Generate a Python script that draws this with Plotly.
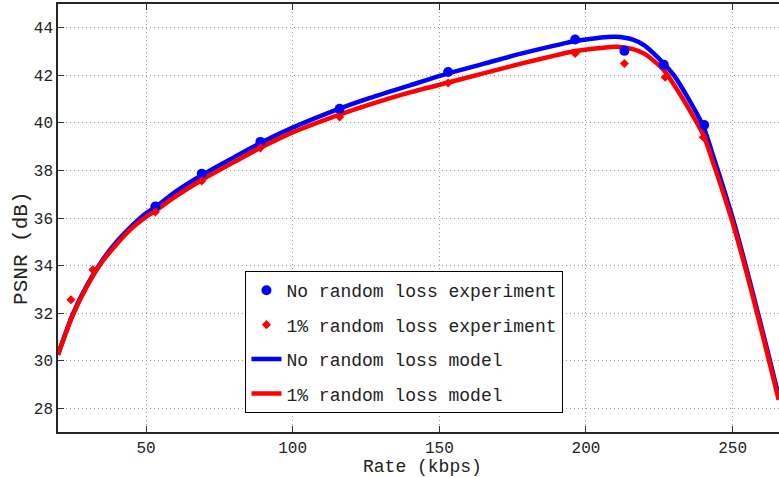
import plotly.graph_objects as go

# Experiment points
exp_rate_noloss = [53.2, 69.0, 89.0, 116.0, 153.0, 196.3, 213.1, 226.5, 240.3]
exp_psnr_noloss = [36.48, 37.86, 39.2, 40.59, 42.14, 43.51, 43.03, 42.45, 39.91]

exp_rate_loss = [24.4, 31.9, 53.2, 69.0, 89.0, 116.0, 153.0, 196.3, 213.1, 227.0, 240.0]
exp_psnr_loss = [32.56, 33.82, 36.25, 37.56, 38.95, 40.25, 41.68, 42.92, 42.5, 41.92, 39.4]

# Model curves
model_rate_noloss = [20, 25, 30, 35, 40, 45, 50, 53.2, 60, 69, 80, 89, 100, 116, 126.4, 140,
                     153, 165, 177.5, 190, 196.3, 204, 210, 216, 220, 226.5, 230, 235, 240,
                     243, 246, 250, 254, 258, 262, 265.7]
model_psnr_noloss = [30.25, 31.95, 33.2, 34.2, 35.0, 35.65, 36.2, 36.45, 37.1, 37.8, 38.55, 39.15,
                     39.8, 40.6, 41.05, 41.58, 42.08, 42.48, 42.9, 43.27, 43.44, 43.57, 43.62, 43.5,
                     43.25, 42.5, 42.0, 41.0, 39.85, 38.75, 37.6, 36.0, 34.2, 32.3, 30.35, 28.5]

model_rate_loss = [20, 25, 30, 35, 40, 45, 50, 53.2, 60, 69, 80, 89, 100, 116, 126.4, 140,
                   153, 165, 177.5, 190, 196.3, 204, 210.5, 216, 220, 226.5, 230, 235, 240,
                   243, 246, 250, 254, 258, 262, 265.7]
model_psnr_loss = [30.25, 31.9, 33.15, 34.15, 34.9, 35.55, 36.05, 36.3, 36.9, 37.6, 38.35, 38.95,
                   39.6, 40.35, 40.78, 41.28, 41.7, 42.08, 42.48, 42.85, 43.02, 43.14, 43.2, 43.1,
                   42.9, 42.22, 41.6, 40.6, 39.5, 38.45, 37.35, 35.8, 34.05, 32.15, 30.2, 28.35]

x_ticks = [50, 100, 150, 200, 250]
y_ticks = [28, 30, 32, 34, 36, 38, 40, 42, 44]

FONT = "Liberation Mono"
GRID = dict(showgrid=True, gridcolor="#9a9a9a", griddash="1px,3px", gridwidth=1)

fig = go.Figure()
fig.add_trace(go.Scatter(x=model_rate_noloss, y=model_psnr_noloss, mode="lines",
                         line=dict(color="#0000ff", width=4.5, shape="spline", smoothing=0.8),
                         name="No random loss model", legendgroup="c", legendrank=3))
fig.add_trace(go.Scatter(x=model_rate_loss, y=model_psnr_loss, mode="lines",
                         line=dict(color="#ff0000", width=4.5, shape="spline", smoothing=0.8),
                         name="1% random loss model", legendgroup="d", legendrank=4))
fig.add_trace(go.Scatter(x=exp_rate_noloss, y=exp_psnr_noloss, mode="markers",
                         marker=dict(color="#0000ff", size=10, symbol="circle"),
                         name="No random loss experiment", legendgroup="a", legendrank=1))
fig.add_trace(go.Scatter(x=exp_rate_loss, y=exp_psnr_loss, mode="markers",
                         marker=dict(color="#ff0000", size=7, symbol="diamond"),
                         name="1% random loss experiment", legendgroup="b", legendrank=2))

fig.update_layout(
    width=779, height=477,
    margin=dict(l=58, r=0, t=4, b=45),
    paper_bgcolor="white", plot_bgcolor="white",
    font=dict(family=FONT, size=16, color="#222222"),
    showlegend=True,
    legend=dict(x=0.26, y=0.376, xanchor="left", yanchor="top",
                bgcolor="white", bordercolor="black", borderwidth=1,
                font=dict(family=FONT, size=18, color="#222222"),
                traceorder="grouped", tracegroupgap=8),
    annotations=[
        dict(text="Rate (kbps)", xref="paper", yref="paper", x=0.506, y=-0.0825,
             xanchor="center", yanchor="middle", showarrow=False,
             font=dict(family=FONT, size=18, color="#222222")),
        dict(text="PSNR (dB)", xref="paper", yref="paper", x=-0.05, y=0.43,
             xanchor="center", yanchor="middle", showarrow=False, textangle=-90,
             font=dict(family=FONT, size=21, color="#222222")),
    ],
)
fig.update_xaxes(range=[20, 265.8], tickvals=x_ticks, ticks="inside", ticklen=6,
                 tickcolor="#333333", showline=True, linecolor="#262626", linewidth=1.5,
                 mirror="ticks", zeroline=False, tickfont=dict(family=FONT, size=16),
                 ticklabelstandoff=0, **GRID)
fig.update_yaxes(range=[27, 45], tickvals=y_ticks, ticks="inside", ticklen=6,
                 tickcolor="#333333", showline=True, linecolor="#262626", linewidth=1.5,
                 mirror=False, zeroline=False, tickfont=dict(family=FONT, size=16), **GRID)

fig.write_html("out.html")
